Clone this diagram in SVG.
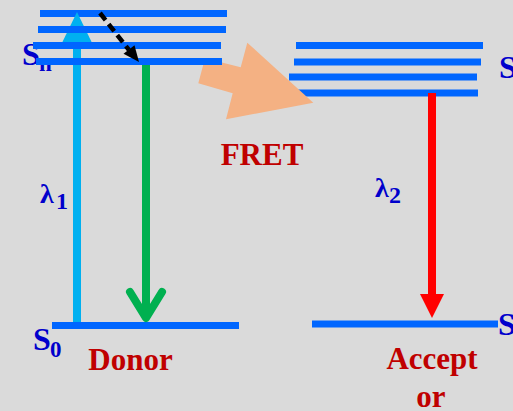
<svg xmlns="http://www.w3.org/2000/svg" width="513" height="411" viewBox="0 0 513 411">
<style>
.lvl{stroke:#0066FF;stroke-width:7;fill:none}
.st{font-family:"Liberation Serif",serif;font-weight:bold;fill:#0000CC}
.lab{font-family:"Liberation Serif",serif;font-weight:bold;fill:#C00000;font-size:31px}
</style>
<rect width="513" height="411" fill="#DADADA"/>
<g id="donor-labels">
<text class="st" x="22" y="65" font-size="32">S</text>
<text class="st" x="39" y="71" font-size="23">n</text>
<text class="st" x="33" y="350" font-size="32">S</text>
<text class="st" x="50" y="357" font-size="23">0</text>
</g>
<g id="acceptor-labels">
<text class="st" x="499" y="78" font-size="32">S</text>
<text class="st" x="498" y="335" font-size="32">S</text>
</g>
<g id="donor-s1-top">
<line class="lvl" x1="40" y1="13.5" x2="227" y2="13.5"/>
</g>
<g id="connectors">
<g id="excitation">
<rect x="73" y="40" width="8" height="285" fill="#00B0F0"/>
<polygon points="77,12 60,47 94,47" fill="#00B0F0"/>
</g>
</g>
<g id="acceptor-levels">
<line class="lvl" x1="296" y1="45.5" x2="483" y2="45.5"/>
<line class="lvl" x1="294" y1="62" x2="481" y2="62"/>
<line class="lvl" x1="289" y1="77" x2="477" y2="77"/>
<line class="lvl" x1="293" y1="93" x2="478" y2="93"/>
<line class="lvl" x1="312" y1="324" x2="498" y2="324"/>
</g>
<g id="fret-arrow">
<polygon points="205,58.3 240.7,67.3 247.3,42.7 313.3,102.7 226,119.3 232.7,93.3 198.3,83.3" fill="#F4B183"/>
</g>
<g id="donor-levels">
<line class="lvl" x1="38" y1="29.5" x2="226" y2="29.5"/>
<line class="lvl" x1="33" y1="45.5" x2="221" y2="45.5"/>
<line class="lvl" x1="36" y1="61.5" x2="222" y2="61.5"/>
<line class="lvl" x1="52" y1="325.5" x2="239" y2="325.5"/>
</g>
<g id="arrows">
<g id="emission">
<rect x="142" y="65" width="8" height="250" fill="#00B050"/>
<polyline points="130,292 146,318 162,292" fill="none" stroke="#00B050" stroke-width="8" stroke-linecap="round" stroke-linejoin="round"/>
</g>
<g id="acceptor-emission">
<rect x="428" y="93" width="8" height="203" fill="#FF0000"/>
<polygon points="420,294 444,294 432,318" fill="#FF0000"/>
</g>
<g id="relaxation">
<line x1="100" y1="13" x2="129" y2="50" stroke="#000" stroke-width="4.5" stroke-dasharray="9,5"/>
<polygon points="139,62 134.5,45.2 123.5,53.8" fill="#000"/>
</g>
</g>
<g id="wavelengths">
<text class="st" x="40" y="203" font-size="28">λ</text>
<text class="st" x="56" y="209" font-size="24">1</text>
<text class="st" x="375" y="197" font-size="28">λ</text>
<text class="st" x="389" y="203" font-size="24">2</text>
</g>
<g id="names">
<text class="lab" x="262" y="165" font-size="30" text-anchor="middle">FRET</text>
<text class="lab" x="130.5" y="370" text-anchor="middle">Donor</text>
<text class="lab" x="432" y="369" text-anchor="middle">Accept</text>
<text class="lab" x="431" y="407" text-anchor="middle">or</text>
</g>
</svg>
